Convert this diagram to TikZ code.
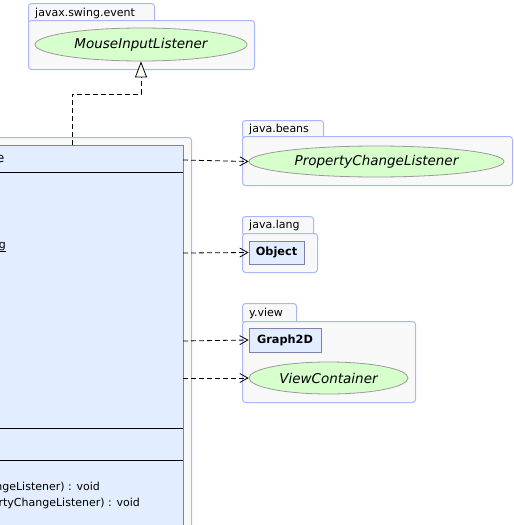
\documentclass[tikz,border=0pt]{standalone}
\usepackage{fontspec}
\setmainfont{DejaVu Sans}
\usetikzlibrary{arrows.meta,shapes.geometric}
\definecolor{pkgfill}{HTML}{F8F8F8}
\definecolor{pkgline}{HTML}{AAB6FA}
\definecolor{clsfill}{HTML}{E2EEFF}
\definecolor{clsline}{HTML}{8080B0}
\definecolor{ifill}{HTML}{D6FFCC}
\definecolor{iline}{HTML}{9A9A9A}
\tikzset{
  pkg/.style={draw=pkgline, fill=pkgfill, line width=1pt, rounded corners=3pt, inner sep=0pt, anchor=north west},
  pkglabel/.style={anchor=base west, inner sep=0pt, font=\fontsize{11}{13}\selectfont},
  iface/.style={ellipse, draw=iline, fill=ifill, line width=0.8pt, inner sep=0pt, font=\fontsize{13.5}{16}\selectfont\itshape},
  cbox/.style={draw=clsline, fill=clsfill, line width=0.9pt, inner sep=0pt, font=\fontsize{11.3}{14}\selectfont\bfseries},
  dep/.style={draw=black, line width=0.8pt, dash pattern=on 5pt off 3pt, -{Straight Barb[length=8pt,width=9pt,line width=0.8pt]}},
  gen/.style={draw=black, line width=0.8pt, dash pattern=on 5pt off 3pt, -{Triangle[open,length=16pt,width=12pt,line width=0.8pt,fill=white]}},
  mtext/.style={inner sep=0pt, font=\fontsize{11}{13}\selectfont}
}
\begin{document}
\begin{tikzpicture}[x=1pt,y=-1pt]
\useasboundingbox (0,0) rectangle (514,525);
% javax.swing.event package
\node[pkg, minimum width=126pt, minimum height=20pt] (tabA) at (28,3) {};
\node[pkg, minimum width=226pt, minimum height=49pt] (pkgA) at (28,20) {};
\node[pkglabel] (labA) at (35,16) {javax.swing.event};
\node[iface, minimum width=212pt, minimum height=33pt] (mil) at (141,44.5) {MouseInputListener};
% java.beans package
\node[pkg, minimum width=81pt, minimum height=18pt] (tabB) at (242,120) {};
\node[pkg, minimum width=270pt, minimum height=49pt] (pkgB) at (242,136) {};
\node[pkglabel] (labB) at (249,132) {java.beans};
\node[iface, minimum width=255pt, minimum height=31pt] (pcl) at (376.5,161.5) {PropertyChangeListener};
% java.lang package
\node[pkg, minimum width=71pt, minimum height=19pt] (tabC) at (242,216) {};
\node[pkg, minimum width=75pt, minimum height=39pt] (pkgC) at (242,233) {};
\node[pkglabel] (labC) at (249,228.5) {java.lang};
\node[cbox, minimum width=55pt, minimum height=23pt] (obj) at (276.5,252.5) {Object};
% y.view package
\node[pkg, minimum width=54pt, minimum height=20pt] (tabD) at (242,303) {};
\node[pkg, minimum width=173pt, minimum height=81pt] (pkgD) at (242,321) {};
\node[pkglabel] (labD) at (249,316) {y.view};
\node[cbox, minimum width=72pt, minimum height=24pt] (g2d) at (285,340) {Graph2D};
\node[iface, minimum width=159pt, minimum height=32pt] (vc) at (328.5,378) {ViewContainer};
% outer package of the class
\node[pkg, minimum width=211pt, minimum height=400pt] (pkgE) at (-20,137) {};
% class box
\node[draw=clsline, fill=clsfill, line width=0.9pt, inner sep=0pt, anchor=north west, minimum width=203pt, minimum height=400pt] (cls) at (-20,145) {};
\draw[line width=0.8pt] (-20,172) -- (183,172);
\draw[line width=0.8pt] (-20,428) -- (183,428);
\draw[line width=0.8pt] (-20,460) -- (183,460);
\node[anchor=base east, inner sep=0pt, font=\fontsize{13}{15}\selectfont] (hdr) at (4.5,162.5) {e};
\node[mtext, anchor=base east] (fld) at (6,248) {\underline{g}};
\node[mtext, anchor=base east] (m1) at (100,490) {ngeListener) : void};
\node[mtext, anchor=base east] (m2) at (140,506) {rtyChangeListener) : void};
% connectors
\coordinate (s0) at (72,145);
\coordinate (s1) at (183,160);
\coordinate (s2) at (183,253);
\coordinate (s3) at (183,341);
\coordinate (s4) at (183,378);
\draw[gen] (s0) -- (72,94) -| (mil.south);
\draw[dep] (s1) -- (pcl.west);
\draw[dep] (s2) -- (obj.west);
\draw[dep] (s3) -- (g2d.west);
\draw[dep] (s4) -- (vc.west);
\end{tikzpicture}
\end{document}
